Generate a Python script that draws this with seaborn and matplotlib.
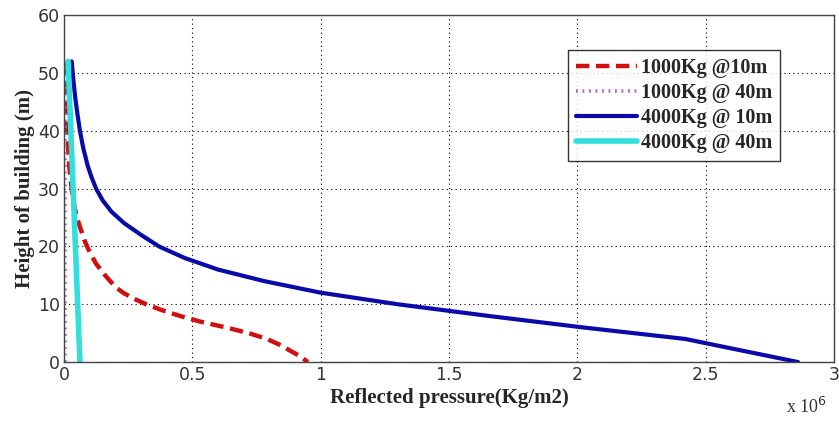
import numpy as np
import pandas as pd
import matplotlib
matplotlib.use("Agg")
import matplotlib.pyplot as plt
import seaborn as sns
from matplotlib.ticker import FuncFormatter

# heights (m) and reflected pressure (x1e6 Kg/m2)
h_red = [52, 42, 34, 28, 25, 23, 21, 19, 17, 15, 13, 12, 11, 10, 9, 8, 7, 6, 5, 4, 3, 2, 1, 0]
p_red = [0.004, 0.01, 0.02, 0.035, 0.05, 0.065, 0.08, 0.1, 0.125, 0.16, 0.2, 0.23, 0.27, 0.32,
         0.38, 0.45, 0.53, 0.63, 0.72, 0.79, 0.84, 0.88, 0.92, 0.95]

h_mag = [52, 0]
p_mag = [0.004, 0.004]

h_blue = [52, 49, 46, 43, 40, 37, 34, 32, 30, 28, 26, 24, 22, 20, 18, 16, 14, 12, 10, 8, 6, 4, 2, 0]
p_blue = [0.03, 0.036, 0.043, 0.052, 0.062, 0.075, 0.092, 0.107, 0.125, 0.15, 0.185, 0.235, 0.3,
          0.37, 0.47, 0.6, 0.78, 1.0, 1.3, 1.65, 2.02, 2.42, 2.64, 2.86]

h_cyan = [52, 0]
p_cyan = [0.016, 0.062]

labels = ['1000Kg @10m', '1000Kg @ 40m', '4000Kg @ 10m', '4000Kg @ 40m']

def frame(h, p, name):
    return pd.DataFrame({'h': h, 'p': np.array(p) * 1e6, 'name': name})

sns.set_theme(style="white")
serif = ['Liberation Serif', 'DejaVu Serif']

fig = plt.figure(figsize=(8.39, 4.21), dpi=100)
ax = fig.add_axes([0.0763, 0.140, 0.9177, 0.824])

styles = [
    (frame(h_red, p_red, labels[0]), '#d01010', (0, (3, 1.5)), 3.2),
    (frame(h_mag, p_mag, labels[1]), '#c060c0', (0, (0.5, 1.3)), 2.6),
    (frame(h_blue, p_blue, labels[2]), '#0a0aa8', '-', 3.0),
    (frame(h_cyan, p_cyan, labels[3]), '#33dede', '-', 4.0),
]
for df, col, ls, lw in styles:
    sns.lineplot(data=df, x='p', y='h', sort=False, estimator=None, color=col,
                 linestyle=ls, linewidth=lw, label=df['name'][0], ax=ax)

ax.set_xlim(0, 3e6)
ax.set_ylim(0, 60)
ax.set_xticks(np.arange(0, 3.01e6, 0.5e6))
ax.set_yticks(np.arange(0, 61, 10))
ax.xaxis.set_major_formatter(FuncFormatter(lambda v, pos: f"{v/1e6:g}"))
ax.grid(True, color='black', linestyle=(0, (1, 3)), linewidth=0.8)
ax.tick_params(direction='in', length=4, color='#444444', labelsize=12.5,
               labelcolor='#333333', pad=3)
for s in ax.spines.values():
    s.set_color('#444444')
    s.set_linewidth(1.0)

ax.set_xlabel('Reflected pressure(Kg/m2)', family=serif, fontweight='bold', fontsize=15, labelpad=3)
ax.set_ylabel('Height of building (m)', family=serif, fontweight='bold', fontsize=15, labelpad=2)
fig.text(0.937, 0.018, 'x 10$^6$', family=serif, fontsize=13, color='#333333')

leg = ax.legend(loc='upper right', bbox_to_anchor=(0.93, 0.9), frameon=True, fancybox=False,
                handlelength=3.0, handletextpad=0.2, borderpad=0.4, labelspacing=0.25,
                borderaxespad=0,
                prop={'family': serif, 'weight': 'bold', 'size': 14.5})
leg.get_frame().set_edgecolor('black')
leg.get_frame().set_linewidth(1.0)

fig.savefig('out.png', dpi=100)
